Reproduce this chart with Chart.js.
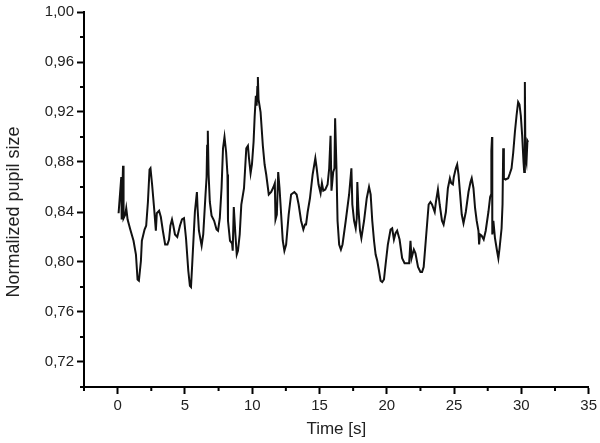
<!DOCTYPE html>
<html>
<head>
<meta charset="utf-8">
<script src="https://cdn.jsdelivr.net/npm/chart.js@4"></script>
<style>
  html, body { margin: 0; padding: 0; background: #fff; }
  #wrap { width: 600px; height: 443px; }
</style>
</head>
<body>
<div id="wrap"><canvas id="grafica"></canvas></div>
<script>
// tiempo en segundos
const timeS = [
  0.07, 0.27, 0.30, 0.40, 0.44, 0.57, 0.64, 0.74, 0.94, 1.18, 1.36, 1.48, 1.58, 1.73, 1.80, 2.00,
  2.12, 2.25, 2.37, 2.44, 2.56, 2.71, 2.84, 2.91, 3.08, 3.21, 3.36, 3.53, 3.70, 3.82, 3.92, 4.04,
  4.14, 4.26, 4.43, 4.63, 4.78, 4.93, 5.08, 5.25, 5.37, 5.45, 5.54, 5.74, 5.89, 5.94, 6.04, 6.24,
  6.36, 6.53, 6.61, 6.65, 6.70, 6.76, 6.85, 6.98, 7.17, 7.35, 7.46, 7.59, 7.72, 7.83, 7.94, 8.06,
  8.16, 8.20, 8.35, 8.50, 8.55, 8.63, 8.75, 8.85, 8.94, 9.07, 9.19, 9.39, 9.56, 9.68, 9.76, 9.88,
  9.98, 10.10, 10.18, 10.27, 10.33, 10.38, 10.42, 10.47, 10.62, 10.79, 10.92, 11.04, 11.23, 11.41, 11.58, 11.68,
  11.73, 11.83, 11.93, 12.03, 12.15, 12.27, 12.39, 12.52, 12.71, 12.89, 13.13, 13.30, 13.45, 13.63, 13.80, 13.92,
  14.00, 14.12, 14.29, 14.49, 14.69, 14.79, 14.93, 15.08, 15.18, 15.28, 15.43, 15.60, 15.72, 15.82, 15.89, 16.02,
  16.11, 16.16, 16.26, 16.34, 16.46, 16.59, 16.71, 16.95, 17.20, 17.37, 17.44, 17.57, 17.69, 17.77, 17.81, 17.89,
  18.01, 18.11, 18.31, 18.51, 18.68, 18.80, 18.92, 19.05, 19.17, 19.29, 19.42, 19.54, 19.66, 19.79, 19.91, 20.08,
  20.28, 20.40, 20.53, 20.65, 20.77, 20.95, 21.14, 21.32, 21.51, 21.66, 21.76, 21.84, 22.01, 22.13, 22.32, 22.50,
  22.62, 22.74, 22.91, 23.11, 23.24, 23.36, 23.56, 23.65, 23.80, 23.93, 24.10, 24.22, 24.39, 24.54, 24.69, 24.79,
  24.91, 24.98, 25.13, 25.23, 25.33, 25.45, 25.57, 25.70, 25.87, 26.07, 26.22, 26.31, 26.44, 26.56, 26.68, 26.81,
  26.86, 26.93, 27.05, 27.20, 27.35, 27.55, 27.68, 27.75, 27.77, 27.82, 27.84, 27.92, 28.04, 28.19, 28.29, 28.38,
  28.53, 28.60, 28.65, 28.70, 28.82, 29.02, 29.15, 29.27, 29.39, 29.52, 29.64, 29.76, 29.86, 29.96, 30.06, 30.16,
  30.21, 30.26, 30.30, 30.38, 30.45, 30.50
];

// tamaño de pupila normalizado
const pupilSize = [
  0.839, 0.868, 0.834, 0.877, 0.835, 0.838, 0.843, 0.834, 0.826, 0.817, 0.806, 0.786, 0.785, 0.801, 0.817, 0.826,
  0.829, 0.848, 0.874, 0.875, 0.862, 0.843, 0.825, 0.839, 0.841, 0.836, 0.825, 0.814, 0.814, 0.818, 0.829, 0.834,
  0.829, 0.822, 0.820, 0.829, 0.834, 0.835, 0.819, 0.793, 0.781, 0.780, 0.798, 0.840, 0.856, 0.843, 0.825, 0.813,
  0.822, 0.854, 0.868, 0.893, 0.905, 0.870, 0.848, 0.837, 0.833, 0.826, 0.825, 0.835, 0.859, 0.891, 0.900, 0.888,
  0.870, 0.833, 0.817, 0.815, 0.809, 0.844, 0.822, 0.806, 0.809, 0.822, 0.846, 0.859, 0.891, 0.893, 0.883, 0.871,
  0.878, 0.896, 0.916, 0.933, 0.925, 0.940, 0.948, 0.930, 0.920, 0.893, 0.878, 0.870, 0.854, 0.856, 0.860, 0.863,
  0.834, 0.838, 0.872, 0.859, 0.838, 0.817, 0.809, 0.814, 0.838, 0.854, 0.856, 0.854, 0.846, 0.833, 0.826, 0.830,
  0.830, 0.840, 0.851, 0.870, 0.883, 0.875, 0.862, 0.855, 0.863, 0.857, 0.858, 0.862, 0.875, 0.901, 0.857, 0.872,
  0.875, 0.915, 0.875, 0.833, 0.814, 0.810, 0.814, 0.833, 0.854, 0.875, 0.846, 0.833, 0.827, 0.835, 0.864, 0.843,
  0.825, 0.819, 0.833, 0.851, 0.860, 0.854, 0.833, 0.817, 0.806, 0.801, 0.793, 0.785, 0.784, 0.786, 0.798, 0.814,
  0.826, 0.827, 0.818, 0.823, 0.825, 0.818, 0.803, 0.799, 0.799, 0.799, 0.817, 0.803, 0.810, 0.807, 0.796, 0.792,
  0.792, 0.796, 0.819, 0.846, 0.848, 0.846, 0.840, 0.848, 0.858, 0.846, 0.833, 0.830, 0.840, 0.859, 0.867, 0.863,
  0.862, 0.868, 0.875, 0.878, 0.870, 0.854, 0.838, 0.831, 0.840, 0.856, 0.864, 0.867, 0.859, 0.843, 0.833, 0.825,
  0.814, 0.822, 0.821, 0.818, 0.825, 0.840, 0.852, 0.854, 0.889, 0.900, 0.822, 0.833, 0.819, 0.809, 0.803, 0.811,
  0.827, 0.846, 0.891, 0.867, 0.866, 0.867, 0.871, 0.875, 0.887, 0.904, 0.917, 0.928, 0.926, 0.917, 0.901, 0.880,
  0.872, 0.944, 0.885, 0.880, 0.897, 0.896
];

const xTicks = [0, 5, 10, 15, 20, 25, 30, 35];
const xMinor = [-2.5, 2.5, 7.5, 12.5, 17.5, 22.5, 27.5, 32.5];
const yTicks = [0.72, 0.76, 0.80, 0.84, 0.88, 0.92, 0.96, 1.00];
const yMinor = [0.70, 0.74, 0.78, 0.82, 0.86, 0.90, 0.94, 0.98];

const puntos = timeS.map((t, i) => ({ x: t, y: pupilSize[i] }));

// marcas menores (más cortas) sobre los ejes
const marcasMenores = {
  id: "marcasMenores",
  afterDraw(chart) {
    const ctx = chart.ctx;
    const sx = chart.scales.x;
    const sy = chart.scales.y;
    const area = chart.chartArea;
    ctx.save();
    ctx.strokeStyle = "#000";
    ctx.lineWidth = 2;
    ctx.beginPath();
    xMinor.forEach(v => {
      const px = sx.getPixelForValue(v);
      ctx.moveTo(px, area.bottom);
      ctx.lineTo(px, area.bottom + 4);
    });
    yMinor.forEach(v => {
      const py = sy.getPixelForValue(v);
      ctx.moveTo(area.left, py);
      ctx.lineTo(area.left - 4, py);
    });
    ctx.stroke();
    ctx.restore();
  }
};

new Chart(document.getElementById("grafica"), {
  type: "line",
  data: {
    datasets: [{
      data: puntos,
      borderColor: "#111",
      borderWidth: 2,
      pointRadius: 0,
      tension: 0,
      fill: false
    }]
  },
  options: {
    responsive: true,
    maintainAspectRatio: false,
    animation: false,
    layout: { padding: { top: 9, right: 10, left: 0, bottom: 0 } },
    plugins: {
      legend: { display: false },
      tooltip: { enabled: false }
    },
    scales: {
      x: {
        type: "linear",
        min: -2.5,
        max: 35,
        afterBuildTicks: s => { s.ticks = xTicks.map(v => ({ value: v })); },
        afterFit: s => { s.height = 56; },
        border: { display: true, color: "#000", width: 2 },
        grid: { display: true, drawOnChartArea: false, drawTicks: true, tickLength: 7, tickWidth: 2, tickColor: "#000" },
        ticks: {
          color: "#222",
          padding: 3,
          maxRotation: 0,
          font: { family: "'Liberation Sans', Arial, sans-serif", size: 15 },
          callback: v => String(v)
        },
        title: {
          display: true,
          text: "Time [s]",
          color: "#222",
          padding: { top: 0, bottom: 3 },
          font: { family: "'Liberation Sans', Arial, sans-serif", size: 17 }
        }
      },
      y: {
        min: 0.70,
        max: 1.00,
        afterBuildTicks: s => { s.ticks = yTicks.map(v => ({ value: v })); },
        afterFit: s => { s.width = 84; },
        border: { display: true, color: "#000", width: 2 },
        grid: { display: true, drawOnChartArea: false, drawTicks: true, tickLength: 7, tickWidth: 2, tickColor: "#000" },
        ticks: {
          color: "#222",
          padding: 3,
          font: { family: "'Liberation Sans', Arial, sans-serif", size: 15 },
          callback: v => v.toFixed(2).replace(".", ",")
        },
        title: {
          display: true,
          // los espacios al final bajan el texto como en el original
          text: "Normalized pupil size     ",
          color: "#222",
          padding: { top: 3, bottom: 0 },
          font: { family: "'Liberation Sans', Arial, sans-serif", size: 18 }
        }
      }
    }
  },
  plugins: [marcasMenores]
});
</script>
</body>
</html>
